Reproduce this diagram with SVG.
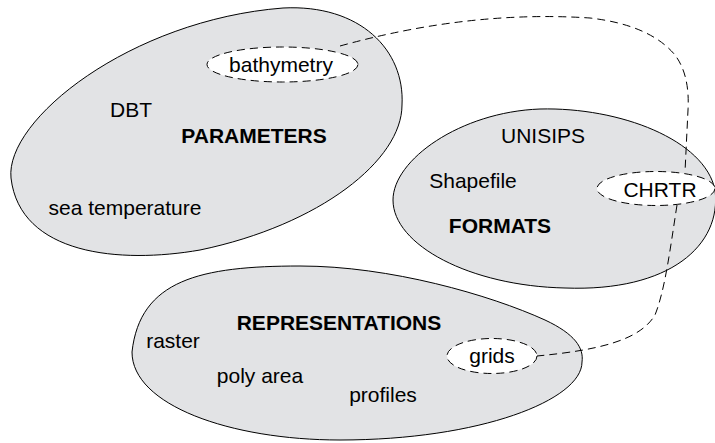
<svg xmlns="http://www.w3.org/2000/svg" width="715" height="443" viewBox="0 0 715 443">
<style>
.blob{fill:#e2e3e5;stroke:#000;stroke-width:1}
.tag{fill:#fff;stroke:#000;stroke-width:1;stroke-dasharray:8 5}
.conn{fill:none;stroke:#000;stroke-width:1;stroke-dasharray:8 5}
text{font-family:"Liberation Sans",Arial,Helvetica,sans-serif;font-size:21px;fill:#000;text-anchor:middle}
.b{font-weight:bold}
</style>
<rect width="715" height="443" fill="#fff"/>
<g id="parameters">
<path class="blob" d="M11,178 C5,120 130,20 283,8 C360,4 405,50 402,105 C402,160 320,225 200,250 C120,264 20,255 11,178 Z"/>
<text x="131" y="117">DBT</text>
<text class="b" x="254" y="143">PARAMETERS</text>
<text x="125" y="215">sea temperature</text>
</g>
<g id="formats">
<path class="blob" d="M393,200 C393,160 460,112 540,109 C620,107 705,140 715,190 C722,245 670,292 565,288 C470,286 393,245 393,200 Z"/>
<text x="543" y="143">UNISIPS</text>
<text x="473" y="188">Shapefile</text>
<text class="b" x="500" y="233">FORMATS</text>
</g>
<g id="representations">
<path class="blob" d="M132,352 C140,280 200,266 300,266 C390,266 490,295 545,320 C575,334 584,348 582,362 C582,400 480,440 340,440 C230,440 132,405 132,352 Z"/>
<text class="b" x="339" y="330">REPRESENTATIONS</text>
<text x="173" y="348">raster</text>
<text x="260" y="383">poly area</text>
<text x="383" y="402">profiles</text>
</g>
<g id="connectors">
<path class="conn" d="M340,46 Q470,10 590,18 Q650,25 675,55 Q690,75 688,110 L685,172"/>
<path class="conn" d="M677,205 C670,250 665,290 655,315 C640,340 600,350 537,356"/>
</g>
<g id="bathymetry">
<ellipse class="tag" cx="282.5" cy="64.5" rx="75.5" ry="17.5"/>
<text x="281" y="72">bathymetry</text>
</g>
<g id="chrtr">
<ellipse class="tag" cx="656" cy="188.5" rx="59" ry="17"/>
<text x="660" y="197">CHRTR</text>
</g>
<g id="grids">
<ellipse class="tag" cx="492" cy="356" rx="45" ry="17.5"/>
<text x="492" y="363">grids</text>
</g>
</svg>
